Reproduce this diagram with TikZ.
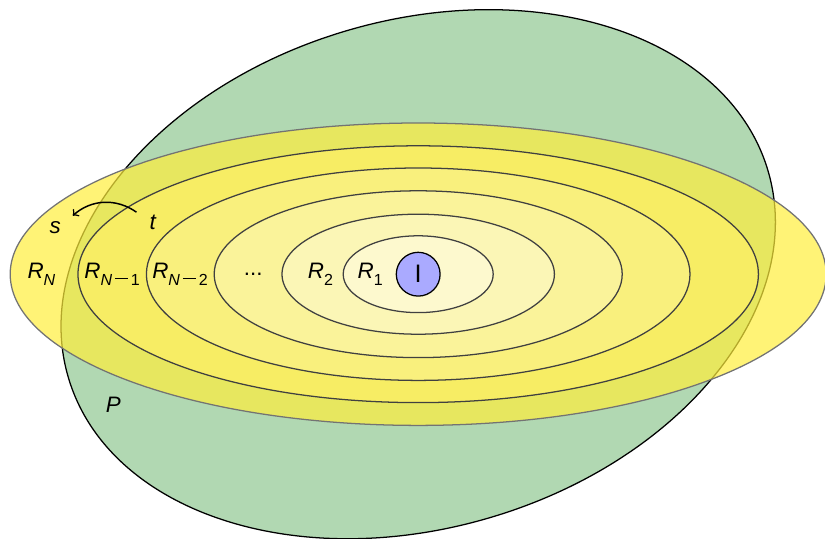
\documentclass[tikz,border=0pt]{standalone}
\usepackage{fontspec}
\setmainfont{Liberation Sans}
\usetikzlibrary{positioning}
\definecolor{PlaneGreen}{HTML}{B1D8B2}
\definecolor{OuterYellow}{HTML}{FFEE3C}
\definecolor{RingYellow}{HTML}{F7EC5C}
\definecolor{CoreBlue}{HTML}{AAAAFF}
\newcommand{\ringsub}[1]{\raisebox{-3.6pt}{\fontsize{7.6}{8}\selectfont #1}}
\newcommand{\subminus}{\hspace{1.3pt}\rule[3.1pt]{6.3pt}{0.65pt}\hspace{1.3pt}}
\tikzstyle{ring} = [draw=black!75, line width=0.6pt]
\tikzstyle{lbl} = [inner sep=1pt, text=black, font=\fontsize{10.6}{12.7}\selectfont]
\tikzstyle{arrow} = [->, line width=0.7pt]

\begin{document}
\begin{tikzpicture}
    \useasboundingbox (-6.97,-4.40) rectangle (6.78,4.57);

    % plane P
    \filldraw [fill=PlaneGreen, draw=black, line width=0.6pt, rotate=16.5] (0,0) ellipse (6.08cm and 4.23cm);

    % rings, outside in
    \filldraw [ring, draw=black!55, fill=OuterYellow, fill opacity=0.7] (0,0) ellipse (6.80cm and 2.52cm);
    \filldraw [ring, fill=RingYellow!95] (0,0) ellipse (5.67cm and 2.14cm);
    \filldraw [ring, fill=RingYellow!80] (0,0) ellipse (4.53cm and 1.77cm);
    \filldraw [ring, fill=RingYellow!62] (0,0) ellipse (3.40cm and 1.39cm);
    \filldraw [ring, fill=RingYellow!45] (0,0) ellipse (2.27cm and 1.00cm);
    \filldraw [ring, fill=RingYellow!30] (0,0) ellipse (1.25cm and 0.64cm);

    \node [circle, draw=black, line width=0.6pt, fill=CoreBlue, minimum size=0.73cm, inner sep=0pt, font=\large] (core) at (0,0) {I};

    % ring labels
    \node [lbl] (rn) at (-6.28,0) {\textit{R}\ringsub{\textit{N}}};
    \node [lbl] (rn1) at (-5.10,0) {\textit{R}\ringsub{\textit{N}\subminus 1}};
    \node [lbl] (rn2) at (-3.97,0) {\textit{R}\ringsub{\textit{N}\subminus 2}};
    \node [lbl] (dots) at (-2.75,0) {...};
    \node [lbl] (r2) at (-1.63,0) {\textit{R}\ringsub{2}};
    \node [lbl] (r1) at (-0.80,0) {\textit{R}\ringsub{1}};

    \node [lbl] (s) at (-6.05,0.78) {\textit{s}};
    \node [lbl] (t) at (-4.42,0.87) {\textit{t}};
    \node [lbl] (p) at (-5.08,-2.18) {\textit{P}};

    % move from t to s
    \draw [arrow] ([xshift=-5pt]t.north west) to[bend right=38] ([xshift=4.5pt, yshift=1.5pt]s.north east);
\end{tikzpicture}
\end{document}
